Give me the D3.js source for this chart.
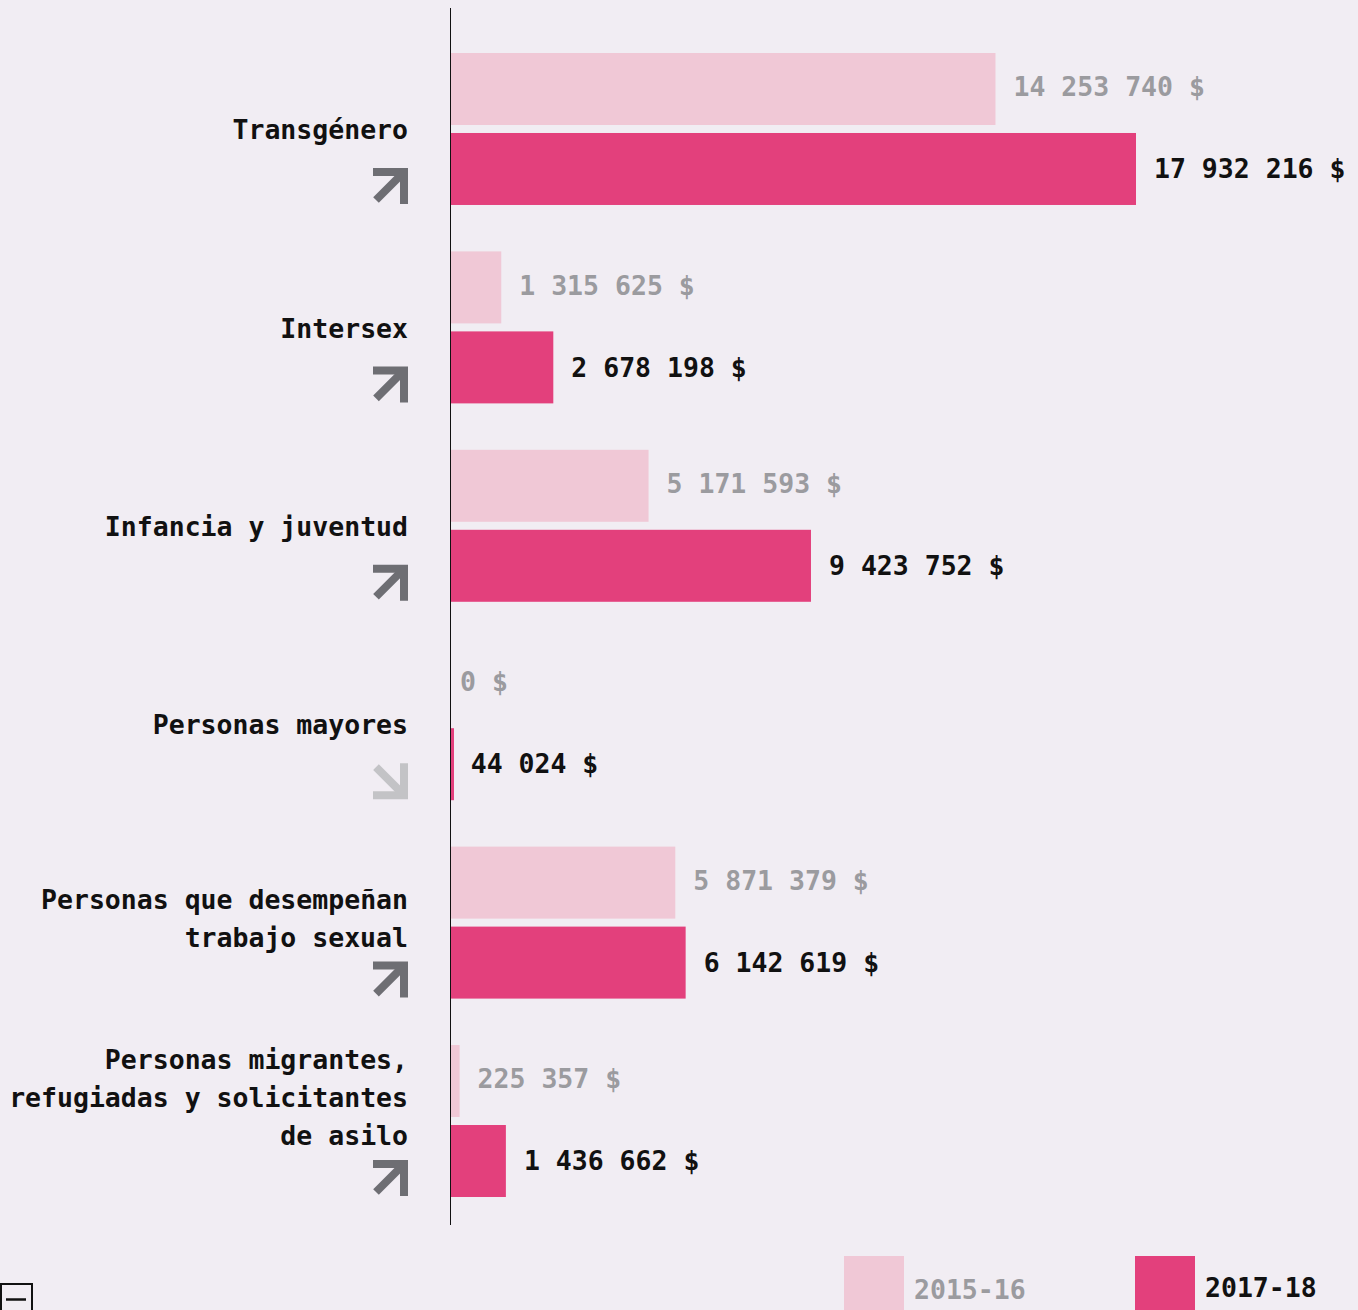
<!DOCTYPE html>
<html>
<head>
<meta charset="utf-8">
<script src="https://cdn.jsdelivr.net/npm/d3@7"></script>
<style>
    html, body { margin: 0; padding: 0; background: #f1edf3; overflow: hidden; }
    text { font-family: "DejaVu Sans Mono", "Liberation Mono", monospace; font-weight: bold; font-size: 26.5px; }
</style>
</head>
<body>
<div id="chart"></div>
<script>
var categories = [
    ['Transgénero'],
    ['Intersex'],
    ['Infancia y juventud'],
    ['Personas mayores'],
    ['Personas que desempeñan', 'trabajo sexual'],
    ['Personas migrantes,', 'refugiadas y solicitantes', 'de asilo']
];
var seriesNames = ['2015-16', '2017-18'];
var values1516 = [14253740, 1315625, 5171593, 0, 5871379, 225357];
var values1718 = [17932216, 2678198, 9423752, 44024, 6142619, 1436662];
var trends = ['up', 'up', 'up', 'down', 'up', 'up'];

var width = 1358,
    height = 1310,
    axisX = 450,
    bg = '#f1edf3',
    colors = ['#f0c8d6', '#e3407c'],
    textColors = ['#9b9b9f', '#111111'];

var data = categories.map(function (c, i) {
    return { id: i, lines: c, v: [values1516[i], values1718[i]], trend: trends[i] };
});

var svg = d3.select('#chart').append('svg')
    .attr('width', width)
    .attr('height', height)
    .style('background', bg);

var xScale = d3.scaleLinear()
    .domain([0, d3.max(values1718)])
    .range([axisX + 1, 1136]);

var yScale = d3.scaleBand()
    .domain(data.map(function (d) { return d.id; }))
    .range([53, 1197])
    .paddingInner(0.234)
    .paddingOuter(0);

var ySub = d3.scaleBand()
    .domain([0, 1])
    .range([0, yScale.bandwidth()])
    .paddingInner(0.1);

var fmt = d3.formatLocale({ decimal: ',', thousands: ' ', grouping: [3], currency: ['', ' $'] }).format(',d');

// bars + value labels
var groups = svg.selectAll('.group').data(data).enter()
    .append('g')
    .attr('class', 'group')
    .attr('transform', function (d) { return 'translate(0,' + yScale(d.id) + ')'; });

[0, 1].forEach(function (s) {
    groups.append('rect')
        .attr('x', xScale(0))
        .attr('y', ySub(s))
        .attr('height', ySub.bandwidth())
        .attr('width', function (d) { return d.v[s] > 0 ? Math.max(3, xScale(d.v[s]) - xScale(0)) : 0; })
        .attr('fill', colors[s]);

    groups.append('text')
        .attr('x', function (d) { return xScale(d.v[s]) + (d.v[s] > 0 ? 18 : 9); })
        .attr('y', ySub(s) + ySub.bandwidth() / 2 - (s === 0 ? 2 : 0))
        .attr('dy', '0.35em')
        .attr('fill', textColors[s])
        .text(function (d) { return fmt(d.v[s]) + ' $'; });
});

// category labels with trend arrows
var lineH = 38,
    arrowSize = 36;
groups.each(function (d) {
    var g = d3.select(this),
        n = d.lines.length,
        bw = yScale.bandwidth(),
        arrowTop = bw - 1 - arrowSize,
        mid = bw / 2 + 1,
        last = Math.min(mid + (n - 1) * lineH / 2, arrowTop - 24);

    d.lines.forEach(function (l, k) {
        g.append('text')
            .attr('x', 408)
            .attr('y', last - (n - 1 - k) * lineH)
            .attr('dy', '0.35em')
            .attr('text-anchor', 'end')
            .attr('fill', '#111111')
            .text(l);
    });

    var up = d.trend === 'up';
    var arrow = g.append('g')
        .attr('transform', up
            ? 'translate(372,' + arrowTop + ')'
            : 'translate(372,' + (arrowTop + arrowSize) + ') scale(1,-1)')
        .attr('fill', up ? '#6e6e73' : '#c3c3c6')
        .attr('stroke', up ? '#6e6e73' : '#c3c3c6');

    arrow.append('path')
        .attr('stroke', 'none')
        .attr('d', 'M1,0 H36 V36 H28 V8 H1 Z');
    arrow.append('line')
        .attr('x1', 4).attr('y1', 32)
        .attr('x2', 31).attr('y2', 5)
        .attr('stroke-width', 8);
});

// axis line
svg.append('line')
    .attr('x1', axisX + 0.5).attr('x2', axisX + 0.5)
    .attr('y1', 8).attr('y2', 1225)
    .attr('stroke', '#111111')
    .attr('stroke-width', 1);

// legend
var legendX = [844, 1135];
seriesNames.forEach(function (name, s) {
    svg.append('rect')
        .attr('x', legendX[s]).attr('y', 1256)
        .attr('width', 60).attr('height', 60)
        .attr('fill', colors[s]);
    svg.append('text')
        .attr('x', legendX[s] + 70)
        .attr('y', s === 0 ? 1290 : 1288)
        .attr('dy', '0.35em')
        .attr('fill', textColors[s])
        .text(name);
});

// collapse button
svg.append('rect')
    .attr('x', 1).attr('y', 1284)
    .attr('width', 31).attr('height', 40)
    .attr('fill', 'none')
    .attr('stroke', '#111111')
    .attr('stroke-width', 2);
svg.append('line')
    .attr('x1', 6).attr('x2', 26)
    .attr('y1', 1299.5).attr('y2', 1299.5)
    .attr('stroke', '#111111')
    .attr('stroke-width', 2.5);
</script>
</body>
</html>
